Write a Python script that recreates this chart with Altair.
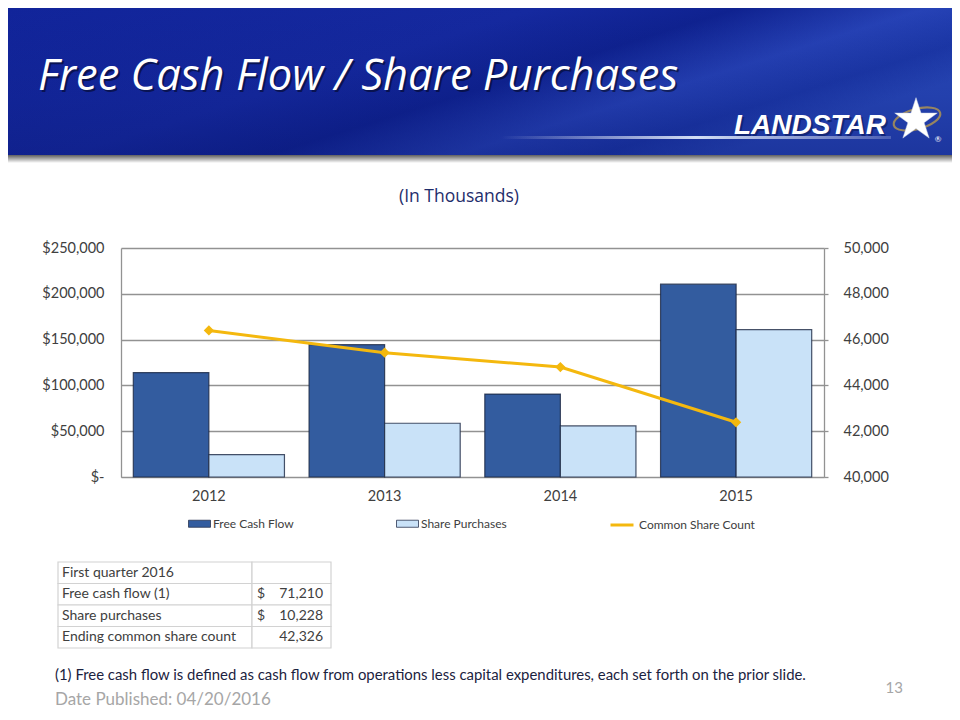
import altair as alt
import pandas as pd

# ---------------- data ----------------
years = ["2012", "2013", "2014", "2015"]
free_cash_flow = [114000, 144500, 90500, 210500]
share_purchases = [24500, 58700, 55800, 160800]
common_share_count = [46400, 45430, 44800, 42390]

series_names = ["Free Cash Flow", "Share Purchases"]
line_name = "Common Share Count"

left_ticks = [0, 50000, 100000, 150000, 200000, 250000]
right_ticks = [40000, 42000, 44000, 46000, 48000, 50000]

table_labels = ["First quarter 2016", "Free cash flow (1)", "Share purchases",
                "Ending common share count"]
table_dollar = ["", "$", "$", ""]
table_values = ["", "71,210", "10,228", "42,326"]

slide_title = "Free Cash Flow / Share Purchases"
chart_subtitle = "(In Thousands)"
footnote = ("(1) Free cash flow is defined as cash flow from operations less capital "
            "expenditures, each set forth on the prior slide.")
date_text = "Date Published:  04/20/2016"
page_number = "13"
logo_text = "LANDSTAR"

# ---------------- styles ----------------
FONT = "Lato"
AXIS_TXT = "#404040"
GRID = "#929292"
FCF_COLOR = "#335C9F"
SP_COLOR = "#C9E2F8"
GOLD = "#F4B80E"
NAVY = "#1F2D6B"

W, H = 703, 229
PAD = {"left": 113, "top": 240, "right": 128, "bottom": 235}

bars_df = pd.DataFrame({
    "year": years * 2,
    "series": [series_names[0]] * 4 + [series_names[1]] * 4,
    "value": free_cash_flow + share_purchases,
})
line_df = pd.DataFrame({"year": years, "count": common_share_count,
                        "series2": [line_name] * 4})
table_df = pd.DataFrame({"label": table_labels, "dollar": table_dollar,
                         "val": table_values})

one = alt.Data(values=[{"a": 1}])

x_enc = alt.X("year:N", sort=years,
              scale=alt.Scale(paddingInner=0.14, paddingOuter=0.07),
              axis=alt.Axis(title=None, labelAngle=0, ticks=False, domainColor=GRID,
                            labelFont=FONT, labelFontSize=14.5, labelColor=AXIS_TXT,
                            labelPadding=12))

bars = alt.Chart(bars_df).mark_bar(stroke="#1a2742", strokeWidth=1.2, strokeOpacity=0.8).encode(
    x=x_enc,
    xOffset=alt.XOffset("series:N", sort=series_names, scale=alt.Scale(paddingInner=0, paddingOuter=0)),
    y=alt.Y("value:Q", scale=alt.Scale(domain=[0, 250000]),
            axis=alt.Axis(title=None, values=left_ticks, ticks=False, grid=True,
                          gridColor=GRID, gridWidth=1.3, domainColor=GRID, domainWidth=1.3,
                          labelFont=FONT, labelFontSize=14.5, labelColor=AXIS_TXT,
                          labelPadding=17,
                          labelExpr="datum.value == 0 ? '$-' : '$' + format(datum.value, ',')")),
    color=alt.Color("series:N", scale=alt.Scale(domain=series_names, range=[FCF_COLOR, SP_COLOR]),
                    legend=alt.Legend(orient="none", legendX=67, legendY=264, direction="horizontal",
                                      title=None, symbolType="M-1,-0.32H1V0.32H-1Z", symbolSize=484,
                                      symbolStrokeColor="#2a3550", symbolStrokeWidth=0.8,
                                      labelFont=FONT, labelFontSize=12, labelColor=AXIS_TXT,
                                      labelOffset=2, columnPadding=100)),
)

line = alt.Chart(line_df).mark_line(strokeWidth=3,
                                    point=alt.OverlayMarkDef(shape="diamond", size=55, filled=True,
                                                             fill=GOLD, color=GOLD)).encode(
    x=alt.X("year:N", sort=years),
    y=alt.Y("count:Q", scale=alt.Scale(domain=[40000, 50000]),
            axis=alt.Axis(title=None, orient="right", values=right_ticks, grid=False,
                          tickSize=4, tickColor=GRID, tickWidth=1.3, domainColor=GRID,
                          domainWidth=1.3, labelPadding=15,
                          labelExpr="format(datum.value, ',')",
                          labelFont=FONT, labelFontSize=14.5, labelColor=AXIS_TXT)),
    stroke=alt.Stroke("series2:N", scale=alt.Scale(domain=[line_name], range=[GOLD]),
                      legend=alt.Legend(orient="none", legendX=488, legendY=264, title=None,
                                        symbolType="stroke", symbolSize=529, symbolStrokeWidth=3,
                                        labelFont=FONT, labelFontSize=12, labelColor=AXIS_TXT,
                                        labelOffset=4)),
)

# ---------------- table ----------------
ty = alt.Y("label:N", sort=table_labels,
           scale=alt.Scale(domain=table_labels, range=[314, 400], paddingInner=0, paddingOuter=0),
           axis=None)
cell1 = alt.Chart(table_df).mark_rect(fill="white", stroke="#d2d2d2", strokeWidth=1.2).encode(
    y=ty, x=alt.value(-63), x2=alt.value(131))
cell2 = alt.Chart(table_df).mark_rect(fill="white", stroke="#d2d2d2", strokeWidth=1.2).encode(
    y=ty, x=alt.value(131), x2=alt.value(210))
t_lab = alt.Chart(table_df).mark_text(align="left", font=FONT, fontSize=14, color=AXIS_TXT).encode(
    y=ty, x=alt.value(-59), text="label:N")
t_dol = alt.Chart(table_df).mark_text(align="left", font=FONT, fontSize=14, color=AXIS_TXT).encode(
    y=ty, x=alt.value(136), text="dollar:N")
t_val = alt.Chart(table_df).mark_text(align="right", font=FONT, fontSize=14, color=AXIS_TXT).encode(
    y=ty, x=alt.value(202), text="val:N")
table = alt.layer(cell1, cell2, t_lab, t_dol, t_val)

# ---------------- slide decoration ----------------
BX0, BX1 = -PAD["left"], W + PAD["right"]
banner = alt.Chart(one).mark_rect(
    fill=alt.Gradient(gradient="linear", x1=0, y1=0, x2=1, y2=0.5,
                      stops=[alt.GradientStop(offset=0, color="#11249a"),
                             alt.GradientStop(offset=0.45, color="#15299f"),
                             alt.GradientStop(offset=0.62, color="#0f2290"),
                             alt.GradientStop(offset=0.78, color="#2642b6"),
                             alt.GradientStop(offset=0.9, color="#1c38a8"),
                             alt.GradientStop(offset=1, color="#2848b8")])
).encode(x=alt.value(BX0), x2=alt.value(BX1), y=alt.value(-240), y2=alt.value(-93))

banner_dark = alt.Chart(one).mark_rect(
    fill=alt.Gradient(gradient="linear", x1=0, y1=0, x2=0, y2=1,
                      stops=[alt.GradientStop(offset=0, color="rgba(8,20,110,0)"),
                             alt.GradientStop(offset=0.6, color="rgba(8,20,110,0.15)"),
                             alt.GradientStop(offset=1, color="rgba(8,20,110,0.35)")])
).encode(x=alt.value(BX0), x2=alt.value(BX1), y=alt.value(-240), y2=alt.value(-93))

banner_shadow = alt.Chart(one).mark_rect(
    fill=alt.Gradient(gradient="linear", x1=0, y1=0, x2=0, y2=1,
                      stops=[alt.GradientStop(offset=0, color="#5f5f5f"),
                             alt.GradientStop(offset=1, color="#ffffff")])
).encode(x=alt.value(BX0), x2=alt.value(BX1), y=alt.value(-93), y2=alt.value(-85))

glow = alt.Chart(one).mark_rect(
    fill=alt.Gradient(gradient="linear", x1=0, y1=0, x2=1, y2=0,
                      stops=[alt.GradientStop(offset=0, color="rgba(255,255,255,0)"),
                             alt.GradientStop(offset=0.5, color="rgba(230,240,255,0.9)"),
                             alt.GradientStop(offset=1, color="rgba(255,255,255,0.2)")])
).encode(x=alt.value(380), x2=alt.value(770), y=alt.value(-112), y2=alt.value(-109))

title_shadow = alt.Chart(one).mark_text(align="left", baseline="alphabetic", font="Open Sans",
                                        fontStyle="italic", fontSize=43.5, color="#000",
                                        opacity=0.45, dx=2, dy=2).encode(
    x=alt.value(-83), y=alt.value(-158), text=alt.value(slide_title))
title_txt = alt.Chart(one).mark_text(align="left", baseline="alphabetic", font="Open Sans",
                                     fontStyle="italic", fontSize=43.5, color="white").encode(
    x=alt.value(-83), y=alt.value(-158), text=alt.value(slide_title))

logo_shadow = alt.Chart(one).mark_text(align="left", baseline="alphabetic", font="Liberation Sans",
                                       fontStyle="italic", fontWeight="bold", fontSize=28,
                                       color="#0a1a5a", opacity=0.6, dx=2, dy=2).encode(
    x=alt.value(613), y=alt.value(-114), text=alt.value(logo_text))
logo = alt.Chart(one).mark_text(align="left", baseline="alphabetic", font="Liberation Sans",
                                fontStyle="italic", fontWeight="bold", fontSize=28,
                                color="white").encode(
    x=alt.value(613), y=alt.value(-114), text=alt.value(logo_text))
ring = alt.Chart(one).mark_point(
    shape="M-1,0A1,0.42,0,1,0,1,0A1,0.42,0,1,0,-1,0", size=2300, filled=False,
    stroke="#c9a443", strokeWidth=2.2, angle=345).encode(x=alt.value(796), y=alt.value(-129))
star = alt.Chart(one).mark_point(
    shape="M0,-1L0.2245,-0.309L0.951,-0.309L0.363,0.118L0.588,0.809L0,0.382L-0.588,0.809"
          "L-0.363,0.118L-0.951,-0.309L-0.2245,-0.309Z",
    size=2000, filled=True, fill="white", stroke="#d0d8e8", strokeWidth=0.5, opacity=1).encode(
    x=alt.value(795), y=alt.value(-128))
reg = alt.Chart(one).mark_text(font=FONT, fontSize=8, color="white").encode(
    x=alt.value(817), y=alt.value(-108), text=alt.value("®"))

subtitle = alt.Chart(one).mark_text(font="Open Sans", fontSize=17.5, color=NAVY).encode(
    x=alt.value(338), y=alt.value(-51), text=alt.value(chart_subtitle))
foot = alt.Chart(one).mark_text(align="left", font=FONT, fontSize=14.9, color="#1b2240").encode(
    x=alt.value(-66), y=alt.value(428), text=alt.value(footnote))
page_no = alt.Chart(one).mark_text(align="right", font=FONT, fontSize=15, color="#a6a6a6").encode(
    x=alt.value(782), y=alt.value(440), text=alt.value(page_number))
date_lbl = alt.Chart(one).mark_text(align="left", baseline="alphabetic", font=FONT, fontSize=17,
                                    color="#a6a6a6").encode(
    x=alt.value(-66), y=alt.value(457), text=alt.value(date_text))

chart = alt.layer(
    banner, banner_dark, banner_shadow, glow, title_shadow, title_txt, logo_shadow, logo, ring,
    star, reg, subtitle, bars, line, table, foot, page_no, date_lbl,
).resolve_scale(y="independent").properties(
    width=W, height=H,
    autosize=alt.AutoSizeParams(type="none"),
    padding=PAD,
).configure_view(stroke=None)

chart.save("out.html", embed_options={"renderer": "svg", "actions": False})
